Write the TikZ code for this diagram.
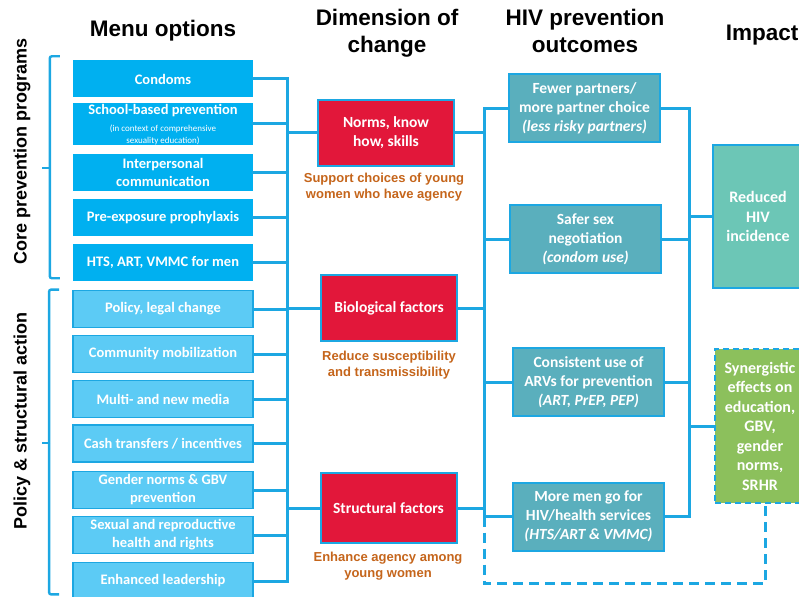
\documentclass[tikz,border=0pt]{standalone}
\usepackage{fontspec}
\setmainfont{Liberation Sans}
\newfontfamily\boxfont{Carlito}
\usetikzlibrary{calc}

\definecolor{lineblue}{HTML}{1CA7E2}
\definecolor{coreblue}{HTML}{00B0F0}
\definecolor{policyblue}{HTML}{5CCBF5}
\definecolor{dimred}{HTML}{E2173A}
\definecolor{aimorange}{HTML}{C5651B}
\definecolor{outcometeal}{HTML}{5AAFBD}
\definecolor{impactteal}{HTML}{6CC6B6}
\definecolor{synergygreen}{HTML}{8CC05C}

\begin{document}
\begin{tikzpicture}[x=1pt, y=-1pt,
		link/.style={draw=lineblue, line width=3pt, line cap=rect},
		dashlink/.style={link, line cap=butt, dash pattern=on 10pt off 6pt},
		brace/.style={draw=lineblue, line width=2.4pt, rounded corners=2pt},
		title/.style={font=\bfseries\fontsize{22.5}{27}\selectfont, align=center, inner sep=0pt},
		side/.style={font=\bfseries\fontsize{18}{22}\selectfont, rotate=90, inner sep=0pt},
		core/.style={fill=coreblue, text=white, minimum width=180, minimum height=37, inner sep=0pt, align=center, font=\boxfont\bfseries\fontsize{14.5}{18}\selectfont},
		policy/.style={core, fill=policyblue, draw=lineblue, line width=1.8pt},
		dim/.style={fill=dimred, draw=lineblue, line width=2pt, text=white, minimum width=136, minimum height=66, align=center, font=\boxfont\bfseries\fontsize{15.5}{19}\selectfont},
		aim/.style={text=aimorange, align=center, inner sep=0pt, font=\bfseries\fontsize{13}{16}\selectfont},
		outcome/.style={fill=outcometeal, draw=lineblue, line width=2pt, text=white, minimum width=151, minimum height=68, inner sep=0pt, align=center, font=\boxfont\bfseries\fontsize{15.5}{19}\selectfont},
		impact/.style={draw=lineblue, line width=2pt, text=white, minimum width=90, inner sep=0pt, align=center, font=\boxfont\bfseries\fontsize{16}{19.5}\selectfont}]
	\useasboundingbox (0,0) rectangle (799,596);
	\clip (0,0) rectangle (799,596);
	% Column titles
	\node[title] (menuTitle) at (163,31) {Menu options};
	\node[title] (dimTitle) at (387,33) {Dimension of\\change};
	\node[title] (outTitle) at (585,31) {HIV prevention\\outcomes};
	\node[title] (impTitle) at (762,35.5) {Impact};
	% Menu options
	\node[core] (condoms) at (163,79) {Condoms};
	\node[core, minimum height=42] (school) at (163,124) {\parbox[c][42pt][t]{178pt}{\centering\vspace*{1.5pt}School-based prevention\par\vspace{5pt}{\mdseries\fontsize{9}{12}\selectfont (in context of comprehensive\\sexuality education)\par}}};
	\node[core] (interpersonal) at (163,172.5) {Interpersonal\\communication};
	\node[core] (prep) at (163,217.5) {Pre-exposure prophylaxis};
	\node[core] (hts) at (163,262.5) {HTS, ART, VMMC for men};
	\node[policy] (legal) at (163,309) {Policy, legal change};
	\node[policy] (community) at (163,354) {Community mobilization};
	\node[policy] (media) at (163,399) {Multi- and new media};
	\node[policy] (cash) at (163,443.5) {Cash transfers / incentives};
	\node[policy] (gender) at (163,490) {Gender norms \& GBV\\prevention};
	\node[policy] (srhr) at (163,535) {Sexual and reproductive\\health and rights};
	\node[policy] (leadership) at (163,581) {Enhanced leadership};
	% Brackets and side labels
	\draw[brace] ($(condoms.north west)+(-13,-4)$) -- ($(condoms.north west)+(-23,-4)$) -- ($(hts.south west)+(-23,-3)$) -- ($(hts.south west)+(-13,-3)$);
	\draw[brace] (50,168) -- (42,168);
	\draw[brace] ($(legal.north west)+(-13,0)$) -- ($(legal.north west)+(-23,0)$) -- ($(leadership.south west)+(-23,-6)$) -- ($(leadership.south west)+(-13,-6)$);
	\draw[brace] (50,443) -- (42,443);
	\node[side] (coreLabel) at (22,151) {Core prevention programs};
	\node[side] (policyLabel) at (22,421) {Policy \& structural action};
	% Dimension of change
	\node[dim] (norms) at (386,133) {Norms, know\\how, skills};
	\node[dim] (bio) at (389,308) {Biological factors};
	\node[dim, minimum height=70] (struct) at (388.5,508) {Structural factors};
	\node[aim] (normsAim) at (384,187) {Support choices of young\\women who have agency};
	\node[aim] (bioAim) at (389,365) {Reduce susceptibility\\and transmissibility};
	\node[aim] (structAim) at (388,566) {Enhance agency among\\young women};
	% HIV prevention outcomes
	\node[outcome] (fewer) at (584.5,108.5) {Fewer partners/\\more partner choice\\\textit{(less risky partners)}};
	\node[outcome] (safer) at (585.5,239) {Safer sex\\negotiation\\\textit{(condom use)}};
	\node[outcome] (arv) at (588.5,382) {Consistent use of\\ARVs for prevention\\\textit{(ART, PrEP, PEP)}};
	\node[outcome] (men) at (588.5,516.5) {More men go for\\HIV/health services\\\textit{(HTS/ART \& VMMC)}};
	% Impact
	\node[impact, fill=impactteal, minimum height=143] (hiv) at (758,216.5) {Reduced\\HIV\\incidence};
	\node[impact, fill=synergygreen, minimum height=154, dash pattern=on 6pt off 4pt] (synergy) at (760,426) {Synergistic\\effects on\\education,\\GBV,\\gender\\norms,\\SRHR};
	% Connectors
	\coordinate (busA) at (287,0);
	\coordinate (busB) at (484,0);
	\coordinate (busC) at (689,0);
	\foreach \m in {condoms,school,interpersonal,prep,hts,legal,community,media,cash,gender,srhr,leadership}
		\draw[link] (\m.east) -- (\m.east -| busA);
	\draw[link] (condoms.east -| busA) -- (leadership.east -| busA);
	\foreach \d in {norms,bio,struct} {
		\draw[link] (\d.west -| busA) -- (\d.west);
		\draw[link] (\d.east) -- (\d.east -| busB);
	}
	\draw[link] (fewer.west -| busB) -- (men.west -| busB);
	\foreach \o in {fewer,safer,arv,men} {
		\draw[link] (\o.west -| busB) -- (\o.west);
		\draw[link] (\o.east) -- (\o.east -| busC);
	}
	\draw[link] (fewer.east -| busC) -- (men.east -| busC);
	\draw[link] (hiv.west -| busC) -- (hiv.west);
	\draw[link] (synergy.west -| busC) -- (synergy.west);
	\draw[dashlink] (men.west -| busB) -- ++(0,67) -| ($(synergy.south)+(5,0)$);
\end{tikzpicture}
\end{document}
